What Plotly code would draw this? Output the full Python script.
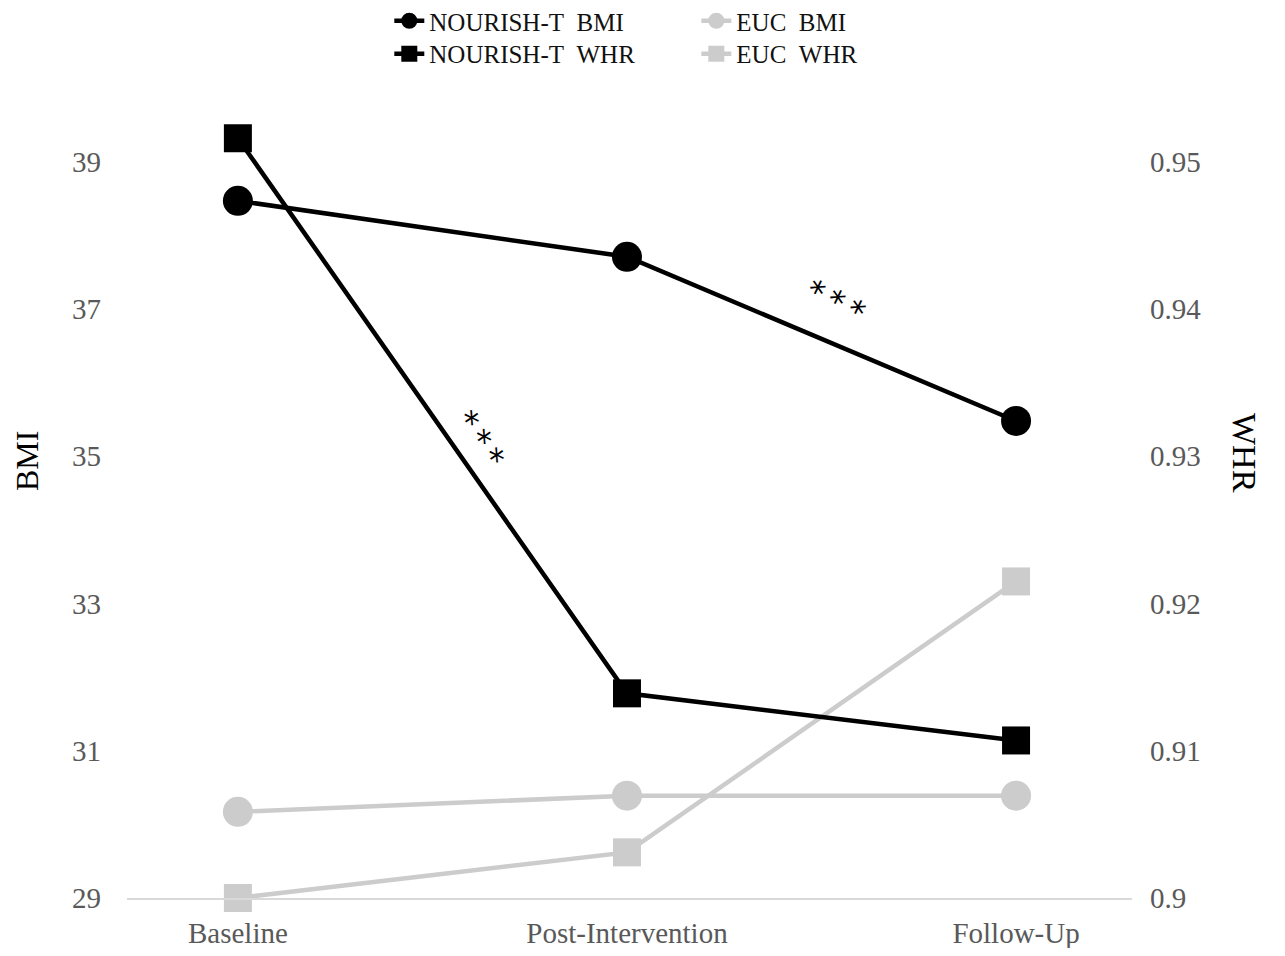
import plotly.graph_objects as go

categories = ["Baseline", "Post-Intervention", "Follow-Up"]
nourish_bmi = [38.47, 37.71, 35.48]
euc_bmi = [30.17, 30.39, 30.39]
nourish_whr = [0.9516, 0.9139, 0.9107]
euc_whr = [0.9000, 0.9031, 0.9215]
bmi_ticks = [29, 31, 33, 35, 37, 39]
whr_ticks = [0.9, 0.91, 0.92, 0.93, 0.94, 0.95]
whr_ticklabels = ["0.9", "0.91", "0.92", "0.93", "0.94", "0.95"]

BLACK = "#000000"
GRAY = "#cccccc"
FONT = "Liberation Serif"
NB = "\u00a0"

fig = go.Figure()

fig.add_trace(go.Scatter(x=categories, y=euc_bmi, name="EUC" + NB + NB + "BMI", mode="lines+markers",
                         line=dict(color=GRAY, width=4.5),
                         marker=dict(symbol="circle", size=30, color=GRAY),
                         legend="legend", legendrank=2, cliponaxis=False))
fig.add_trace(go.Scatter(x=categories, y=euc_whr, name="EUC" + NB + NB + "WHR", mode="lines+markers",
                         line=dict(color=GRAY, width=4.5),
                         marker=dict(symbol="square", size=28, color=GRAY, line=dict(width=0)),
                         yaxis="y2", legend="legend2", legendrank=2, cliponaxis=False))
fig.add_trace(go.Scatter(x=categories, y=nourish_bmi, name="NOURISH-T" + NB + NB + "BMI", mode="lines+markers",
                         line=dict(color=BLACK, width=4.5),
                         marker=dict(symbol="circle", size=30, color=BLACK),
                         legend="legend", legendrank=1, cliponaxis=False))
fig.add_trace(go.Scatter(x=categories, y=nourish_whr, name="NOURISH-T" + NB + NB + "WHR", mode="lines+markers",
                         line=dict(color=BLACK, width=4.5),
                         marker=dict(symbol="square", size=28, color=BLACK),
                         yaxis="y2", legend="legend2", legendrank=1, cliponaxis=False))

legend_common = dict(orientation="h", xref="paper", yref="paper",
                     xanchor="left", yanchor="middle", entrywidth=262, entrywidthmode="pixels",
                     font=dict(family=FONT, size=25, color="#111111"),
                     bgcolor="rgba(0,0,0,0)", traceorder="normal", itemsizing="trace")

fig.update_layout(
    width=1269, height=940,
    paper_bgcolor="white", plot_bgcolor="white",
    margin=dict(l=119, r=145, t=117, b=50, autoexpand=False),
    font=dict(family=FONT, size=29, color="#595959"),
    showlegend=True,
    legend=dict(x=0.261, y=1.1345, **legend_common),
    legend2=dict(x=0.261, y=1.092, **legend_common),
    xaxis=dict(type="category", range=[-0.285, 2.298], showgrid=False, zeroline=False,
               showline=True, linecolor="#d9d9d9", linewidth=2, ticks="",
               tickfont=dict(family=FONT, size=29, color="#595959"), ticklabelstandoff=8,
               automargin=False),
    yaxis=dict(range=[29, 39.5], tickvals=bmi_ticks, showgrid=False, zeroline=False,
               showline=False, ticks="", ticklabelstandoff=25, automargin=False,
               tickfont=dict(family=FONT, size=29, color="#595959")),
    yaxis2=dict(range=[0.9, 0.9525], tickvals=whr_ticks, ticktext=whr_ticklabels,
                overlaying="y", side="right", showgrid=False, zeroline=False,
                showline=False, ticks="", ticklabelstandoff=17, automargin=False,
                tickfont=dict(family=FONT, size=29, color="#595959")),
    annotations=[
        dict(text="BMI", xref="paper", yref="paper", x=(27 - 127) / 1005, y=(898 - 461) / 773,
             xanchor="center", yanchor="middle",
             showarrow=False, textangle=-90, font=dict(family=FONT, size=32, color="#000000")),
        dict(text="WHR", xref="paper", yref="paper", x=(1245 - 127) / 1005, y=(898 - 453) / 773,
             xanchor="center", yanchor="middle",
             showarrow=False, textangle=90, font=dict(family=FONT, size=34, color="#000000")),
        dict(text="*\u2009*\u2009*", xref="x", yref="y", x=0.62, y=35.23, showarrow=False,
             textangle=56, font=dict(family="DejaVu Sans", size=32, color="#000000")),
        dict(text="*\u2009*\u2009*", xref="x", yref="y", x=1.536, y=37.09, showarrow=False,
             textangle=26, font=dict(family="DejaVu Sans", size=32, color="#000000")),
    ],
)

fig.write_html("out.html")
